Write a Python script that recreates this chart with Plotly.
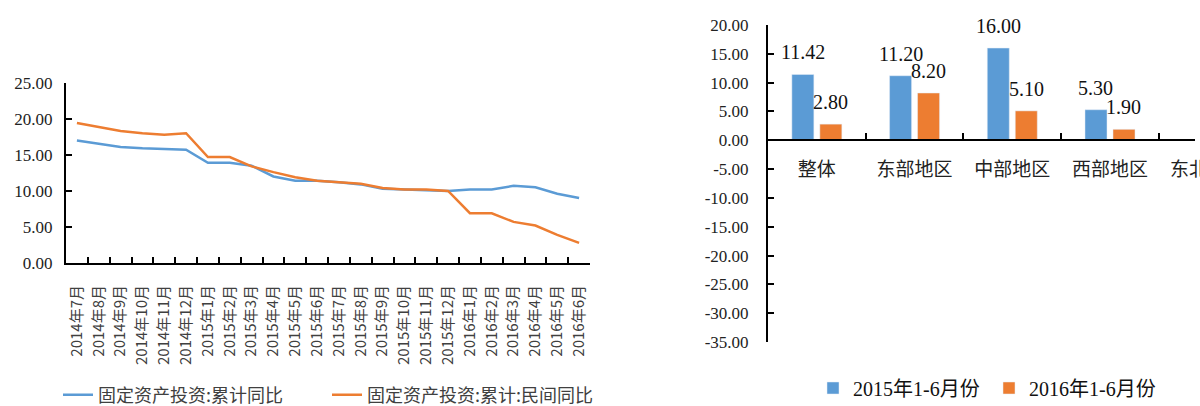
import plotly.graph_objects as go

# ---- left panel: monthly cumulative YoY growth of fixed-asset investment ----
months = [
    "2014年7月", "2014年8月", "2014年9月", "2014年10月", "2014年11月", "2014年12月",
    "2015年1月", "2015年2月", "2015年3月", "2015年4月", "2015年5月", "2015年6月",
    "2015年7月", "2015年8月", "2015年9月", "2015年10月", "2015年11月", "2015年12月",
    "2016年1月", "2016年2月", "2016年3月", "2016年4月", "2016年5月", "2016年6月",
]
fai_total = [17.0, 16.5, 16.1, 15.9, 15.8, 15.7,
             13.9, 13.9, 13.5, 12.0, 11.4, 11.4,
             11.2, 10.9, 10.3, 10.2, 10.2, 10.0,
             10.2, 10.2, 10.7, 10.5, 9.6, 9.0]
fai_private = [19.4, 18.9, 18.3, 18.0, 17.8, 18.0,
               14.7, 14.7, 13.4, 12.6, 11.9, 11.4,
               11.2, 11.0, 10.4, 10.2, 10.2, 10.0,
               6.9, 6.9, 5.7, 5.2, 3.9, 2.8]
left_names = ["固定资产投资:累计同比", "固定资产投资:累计:民间同比"]
left_yticks = [0, 5, 10, 15, 20, 25]

# ---- right panel: regional growth, Jan-Jun 2015 vs Jan-Jun 2016 ----
regions = ["整体", "东部地区", "中部地区", "西部地区", "东北地区"]
h1_2015 = [11.42, 11.20, 16.00, 5.30, None]
h1_2016 = [2.80, 8.20, 5.10, 1.90, None]
bar_names = ["2015年1-6月份", "2016年1-6月份"]
right_yticks = [-35, -30, -25, -20, -15, -10, -5, 0, 5, 10, 15, 20]

BLUE = "#5B9BD5"
ORANGE = "#ED7D31"
SERIF = "Liberation Serif, Noto Sans CJK SC, serif"
CJK = "Noto Sans CJK SC, sans-serif"

W, H = 1200, 406


def px_x(p):
    return p / W


def px_y(p):
    return 1 - p / H


fig = go.Figure()

fig.add_trace(go.Scatter(x=months, y=fai_total, mode="lines", name=left_names[0],
                         line=dict(color=BLUE, width=2.5), xaxis="x", yaxis="y",
                         legend="legend"))
fig.add_trace(go.Scatter(x=months, y=fai_private, mode="lines", name=left_names[1],
                         line=dict(color=ORANGE, width=2.5), xaxis="x", yaxis="y",
                         legend="legend"))

fig.add_trace(go.Bar(x=regions, y=h1_2015, name=bar_names[0], marker_color=BLUE,
                     xaxis="x2", yaxis="y2", legend="legend2"))
fig.add_trace(go.Bar(x=regions, y=h1_2016, name=bar_names[1], marker_color=ORANGE,
                     xaxis="x2", yaxis="y2", legend="legend2"))

# value labels above each bar
annotations = []
for series, shift in ((h1_2015, -14), (h1_2016, 14)):
    for cat, v in zip(regions, series):
        if v is None:
            continue
        annotations.append(dict(
            x=cat, y=v, xref="x2", yref="y2", text=f"{v:.2f}", showarrow=False,
            xanchor="center", yanchor="bottom", xshift=shift, yshift=9,
            font=dict(family=SERIF, size=20, color="#111"),
        ))

# last region sits at the right edge of the panel
annotations.append(dict(
    x=px_x(1208), y=px_y(167), xref="paper", yref="paper", text=regions[-1],
    showarrow=False, xanchor="center", yanchor="middle",
    font=dict(family=CJK, size=19, color="#222"),
))

axis_common = dict(showgrid=False, zeroline=False, showline=True, linecolor="#000",
                   linewidth=2, ticks="inside", tickcolor="#000", tickwidth=2, ticklen=6,
                   automargin=False)

zero_y_px = 140.3

fig.update_layout(
    width=W, height=H,
    margin=dict(l=0, r=0, t=0, b=0, autoexpand=False),
    paper_bgcolor="white", plot_bgcolor="white",
    bargap=0.427, bargroupgap=0.214,
    xaxis=dict(domain=[px_x(66), px_x(590)], anchor="y", type="category",
               range=[-0.5, len(months) - 0.5], tickson="boundaries",
               tickangle=-90, ticklabelstandoff=14,
               tickfont=dict(family=CJK, size=15, color="#404040"), **axis_common),
    yaxis=dict(domain=[px_y(263), px_y(82.7)], anchor="x", range=[0, 25],
               tickvals=left_yticks, ticktext=[f"{v:.2f}" for v in left_yticks],
               ticklabelstandoff=8,
               tickfont=dict(family=SERIF, size=17, color="#222"), **axis_common),
    xaxis2=dict(domain=[px_x(768), px_x(1195)], anchor="free", position=px_y(zero_y_px),
                type="category", range=[-0.5, 3.87], tickson="boundaries",
                ticklabelstandoff=12,
                tickfont=dict(family=CJK, size=19, color="#222"), **axis_common),
    yaxis2=dict(domain=[px_y(342), px_y(25)], anchor="x2", range=[-35, 20],
                tickvals=right_yticks, ticktext=[f"{v:.2f}" for v in right_yticks],
                ticklabelstandoff=14,
                tickfont=dict(family=SERIF, size=17, color="#222"), **axis_common),
    legend=dict(orientation="h", x=px_x(58), y=px_y(395), xanchor="left", yanchor="middle",
                entrywidth=224, entrywidthmode="pixels",
                font=dict(family=CJK, size=18, color="#404040"), bgcolor="rgba(0,0,0,0)"),
    legend2=dict(orientation="h", x=px_x(813), y=px_y(388), xanchor="left", yanchor="middle",
                 entrywidth=131, entrywidthmode="pixels",
                 font=dict(family=SERIF, size=20, color="#111"), bgcolor="rgba(0,0,0,0)"),
    annotations=annotations,
    showlegend=True,
)

fig.write_html("out.html")
